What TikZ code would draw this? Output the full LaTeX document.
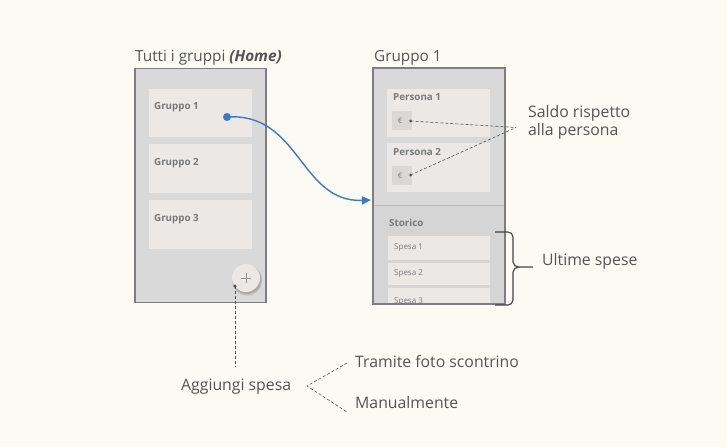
\documentclass[tikz,border=0pt]{standalone}
\usepackage{fontspec}
\setmainfont{Open Sans}
\usetikzlibrary{arrows.meta}
\definecolor{bgc}{HTML}{FBFAF3}
\definecolor{phonefill}{HTML}{D9D9D9}
\definecolor{phonelow}{HTML}{D5D5D5}
\definecolor{phoneline}{HTML}{7E7E7E}
\definecolor{cardfill}{HTML}{EBE8E6}
\definecolor{cardtext}{HTML}{7A7A7A}
\definecolor{anntext}{HTML}{555555}
\definecolor{dashc}{HTML}{505050}
\definecolor{flowblue}{HTML}{3B7BC6}
\definecolor{eurofill}{HTML}{DAD8D6}
\tikzset{
  phone/.style={draw=phoneline, line width=1.2pt, fill=phonefill, inner sep=0, rectangle},
  card/.style={fill=cardfill, draw=none, inner sep=0, rectangle},
  eurobox/.style={fill=eurofill, draw=none, inner sep=0, minimum width=20, minimum height=19},
  cardtxt/.style={font=\fontsize{9.8}{11}\selectfont\bfseries, text=cardtext, inner sep=0, anchor=west},
  spesatxt/.style={font=\fontsize{8}{10}\selectfont, text=cardtext, inner sep=0, anchor=west},
  titletxt/.style={font=\fontsize{15.3}{17}\selectfont, text=anntext, inner sep=0, anchor=west},
  anntxt/.style={font=\fontsize{15.8}{18.5}\selectfont, text=anntext, inner sep=0, anchor=west, align=left},
  annline/.style={draw=dashc, dashed, dash pattern=on 3pt off 2pt, line width=0.6pt},
  smalldot/.style={circle, fill=dashc, inner sep=0, minimum size=3.5},
}
\begin{document}
\begin{tikzpicture}[x=1pt, y=-1pt]
\fill[bgc] (0,0) rectangle (727,447);
\useasboundingbox (0,0) rectangle (727,447);

% ---------- left phone ----------
\node[titletxt] (t1) at (135,58) {Tutti i gruppi \textbf{\textit{(Home)}}};
\node[phone, minimum width=131, minimum height=234] (p1) at (200.5,185.5) {};
\node[card, minimum width=103, minimum height=48] (g1) at (200.5,112.5) {};
\node[card, minimum width=103, minimum height=49] (g2) at (200.5,168.5) {};
\node[card, minimum width=103, minimum height=49] (g3) at (200.5,224.5) {};
\node[cardtxt] (g1t) at (154,107) {Gruppo 1};
\node[cardtxt] (g2t) at (154,163) {Gruppo 2};
\node[cardtxt] (g3t) at (154,219) {Gruppo 3};
% plus button
\fill[black, opacity=0.12] (247,280.5) circle (15);
\fill[black, opacity=0.10] (247,279.5) circle (14.5);
\node[circle, fill=cardfill, inner sep=0, minimum size=28] (plus) at (246,278) {};
\draw[cardtext!80, line width=0.6pt] ([xshift=-5]plus.center) -- ([xshift=5]plus.center)
  ([yshift=-5]plus.center) -- ([yshift=5]plus.center);
\node[smalldot] (plusdot) at (235,286) {};

% ---------- right phone ----------
\node[titletxt] (t2) at (374,58) {Gruppo 1};
\node[phone, minimum width=132, minimum height=235] (p2) at (439,186) {};
\fill[phonelow] (373.6,205) rectangle (504.4,302.9);
\draw[phonefill!85!black, line width=0.8pt] (373.6,205) -- (504.4,205);
\node[card, minimum width=103, minimum height=48] (pe1) at (438.5,113) {};
\node[card, minimum width=103, minimum height=49] (pe2) at (438.5,167.5) {};
\node[cardtxt] (pe1t) at (393,97) {Persona 1};
\node[cardtxt] (pe2t) at (393,152) {Persona 2};
\node[eurobox] (e1) at (402,120.5) {};
\node[eurobox] (e2) at (402,175) {};
\node[font=\fontsize{7.5}{8}\selectfont, text=cardtext, inner sep=0] (e1t) at (400,121) {€};
\node[font=\fontsize{7.5}{8}\selectfont, text=cardtext, inner sep=0] (e2t) at (400,175.5) {€};
\node[smalldot, minimum size=3] (e1d) at (410.5,121) {};
\node[smalldot, minimum size=3] (e2d) at (410.5,175) {};
\node[cardtxt] (st) at (389,223) {Storico};
\begin{scope}
  \clip (373.6,68.6) rectangle (504.4,302.9);
  \node[card, minimum width=102, minimum height=24] (s1) at (439,248) {};
  \node[card, minimum width=102, minimum height=22] (s2) at (439,274) {};
  \node[card, minimum width=102, minimum height=24] (s3) at (439,300) {};
  \node[spesatxt] (s1t) at (394,248) {Spesa 1};
  \node[spesatxt] (s2t) at (394,274) {Spesa 2};
  \node[spesatxt] (s3t) at (394,301.5) {Spesa 3};
\end{scope}
\draw[phoneline, line width=1.2pt] (p2.north west) rectangle (p2.south east);

% ---------- blue flow ----------
\coordinate (arrowend) at (371,200);
\node[circle, fill=flowblue, inner sep=0, minimum size=8] (g1dot) at (227,117) {};
\draw[flowblue, line width=1.4pt, -{Triangle[length=9pt, width=8pt]}]
  (g1dot.center) .. controls (300,112) and (300,203) .. (arrowend);

% ---------- annotations ----------
\coordinate (saldoc) at (516,127.5);
\node[anntxt] (saldo) at (528,122.5) {Saldo rispetto\\alla persona};
\draw[annline] (e1d.center) -- (saldoc);
\draw[annline] (e2d.center) -- (saldoc);

\draw[line width=1.1pt, draw=anntext!80!black]
  (495,232) -- (508,232) to[out=0,in=90] (513,237) -- (513,262)
  to[out=-90,in=180] (519,267) -- (533,267)
  (519,267) to[out=180,in=90] (513,272) -- (513,300)
  to[out=-90,in=0] (508,305) -- (495,305);
\node[anntxt] (ult) at (542,261) {Ultime spese};

\node[anntxt] (agg) at (181,387) {Aggiungi spesa};
\coordinate (aggtop) at (235,367);
\draw[annline] (plusdot.center) -- (aggtop);
\coordinate (fork) at (307,386);
\coordinate (forkup) at (347,363);
\coordinate (forkdn) at (347,412);
\draw[annline] (forkup) -- (fork) -- (forkdn);
\node[anntxt] (tram) at (355,362) {Tramite foto scontrino};
\node[anntxt] (man) at (355,403) {Manualmente};
\end{tikzpicture}
\end{document}
